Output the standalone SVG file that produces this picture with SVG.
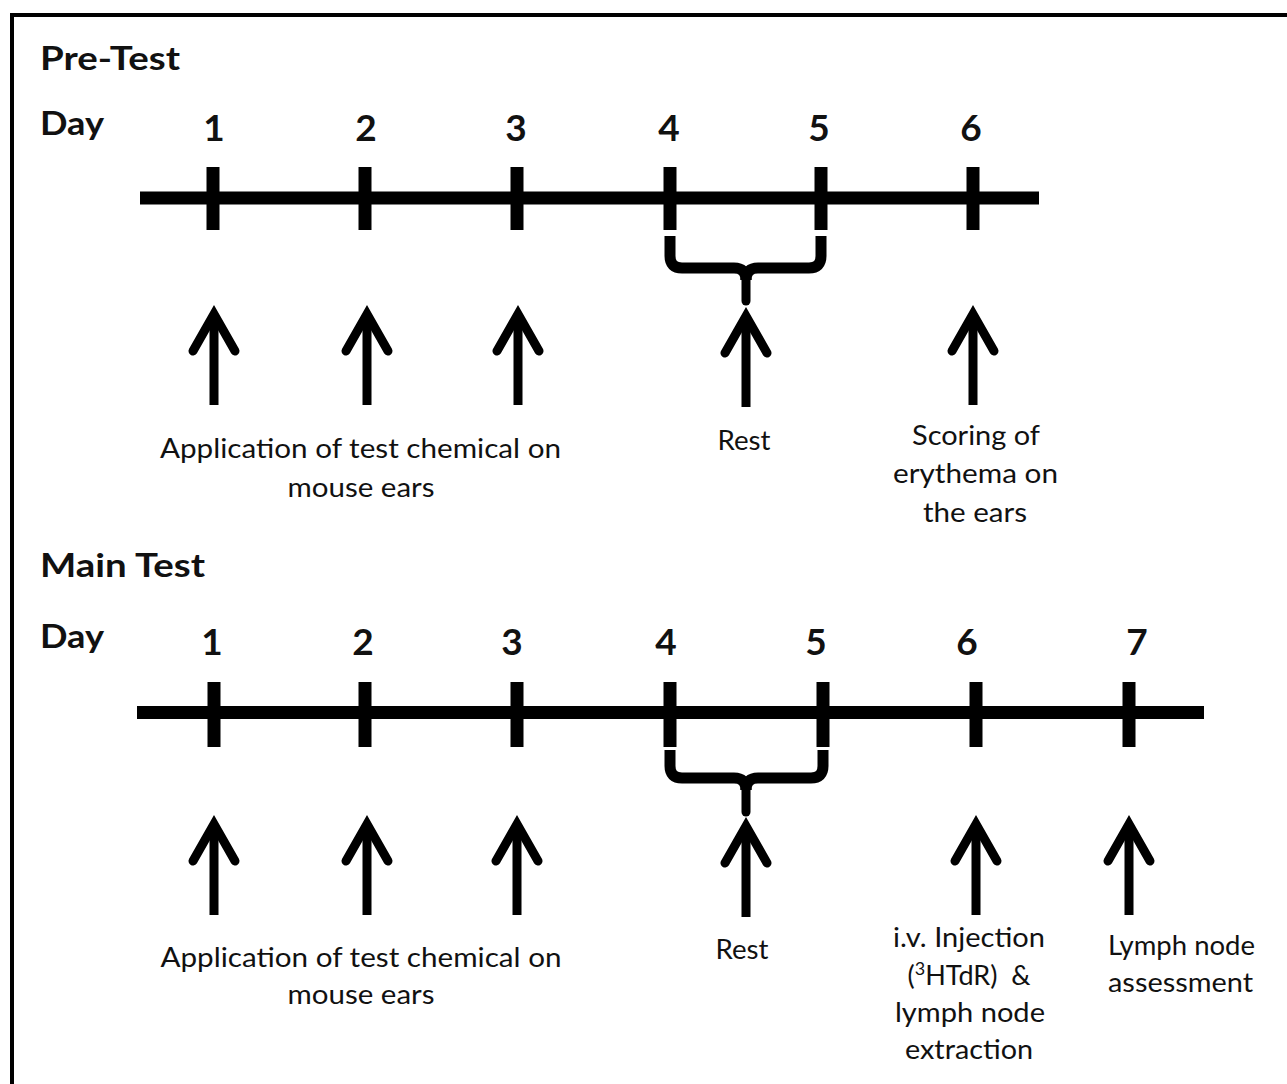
<svg xmlns="http://www.w3.org/2000/svg" width="1287" height="1084" viewBox="0 0 1287 1084">
<style>
.h{font-family:Lato,"Liberation Sans",sans-serif;font-weight:bold;fill:#111}
.d{font-family:Lato,"Liberation Sans",sans-serif;font-weight:bold;font-size:37px;fill:#111;text-anchor:middle}
.t{font-family:Lato,"Liberation Sans",sans-serif;font-size:27px;fill:#111;text-anchor:middle}
.tl{stroke:#000;stroke-width:13;fill:none}
.tk{stroke:#000;stroke-width:13}
.br{stroke:#000;stroke-width:11;fill:none;stroke-linecap:butt}
.brm{stroke:#000;stroke-width:9;fill:none;stroke-linecap:round}
.sh{stroke:#000;stroke-width:9}
.hd{stroke:#000;stroke-width:9;fill:none;stroke-linecap:round;stroke-linejoin:miter}
</style>
<rect x="0" y="0" width="1287" height="1084" fill="#fff"/>
<rect x="12" y="15" width="1300" height="1100" fill="none" stroke="#000" stroke-width="4"/>

<g id="pretest">
<text class="h" x="40" y="70" font-size="33" textLength="140" lengthAdjust="spacingAndGlyphs">Pre-Test</text>
<text class="h" x="40" y="135" font-size="32" textLength="64" lengthAdjust="spacingAndGlyphs">Day</text>
<g id="pre-days">
<text class="d" x="214" y="141">1</text>
<text class="d" x="366" y="141">2</text>
<text class="d" x="516" y="141">3</text>
<text class="d" x="669" y="141">4</text>
<text class="d" x="819" y="141">5</text>
<text class="d" x="971" y="141">6</text>
</g>
<g id="pre-timeline">
<line class="tl" x1="140" y1="198" x2="1039" y2="198"/>
<line class="tk" x1="213" y1="167" x2="213" y2="230"/>
<line class="tk" x1="365" y1="167" x2="365" y2="230"/>
<line class="tk" x1="517" y1="167" x2="517" y2="230"/>
<line class="tk" x1="670" y1="167" x2="670" y2="230"/>
<line class="tk" x1="821" y1="167" x2="821" y2="230"/>
<line class="tk" x1="973" y1="167" x2="973" y2="230"/>
</g>
<g id="pre-brace">
<path class="br" d="M670,236 L670,256 Q670,268 682,268 L734,268 Q746,268 746,280"/>
<path class="br" d="M821,236 L821,256 Q821,268 809,268 L758,268 Q746,268 746,280"/>
<line class="brm" x1="746" y1="272" x2="746" y2="301"/>
</g>
</g>

<g id="pre-arrows">
<g id="pa1"><line class="sh" x1="214" y1="314" x2="214" y2="405"/><polyline class="hd" points="193,351 214,314 235,351"/></g>
<g id="pa2"><line class="sh" x1="367" y1="314" x2="367" y2="405"/><polyline class="hd" points="346,351 367,314 388,351"/></g>
<g id="pa3"><line class="sh" x1="518" y1="314" x2="518" y2="405"/><polyline class="hd" points="497,351 518,314 539,351"/></g>
<g id="pa4"><line class="sh" x1="746" y1="316" x2="746" y2="407"/><polyline class="hd" points="725,353 746,316 767,353"/></g>
<g id="pa5"><line class="sh" x1="973" y1="314" x2="973" y2="405"/><polyline class="hd" points="952,351 973,314 994,351"/></g>
</g>

<g id="pre-labels">
<text class="t" x="360.5" y="458" textLength="401" lengthAdjust="spacingAndGlyphs">Application of test chemical on</text>
<text class="t" x="361" y="497" textLength="147" lengthAdjust="spacingAndGlyphs">mouse ears</text>
<text class="t" x="744" y="450" textLength="53" lengthAdjust="spacingAndGlyphs">Rest</text>
<text class="t" x="976" y="445" textLength="128" lengthAdjust="spacingAndGlyphs">Scoring of</text>
<text class="t" x="975.5" y="483" textLength="165" lengthAdjust="spacingAndGlyphs">erythema on</text>
<text class="t" x="975" y="522" textLength="104" lengthAdjust="spacingAndGlyphs">the ears</text>
</g>

<g id="maintest">
<text class="h" x="40" y="577" font-size="33" textLength="165" lengthAdjust="spacingAndGlyphs">Main Test</text>
<text class="h" x="40" y="648" font-size="32" textLength="64" lengthAdjust="spacingAndGlyphs">Day</text>
<g id="main-days">
<text class="d" x="212" y="655">1</text>
<text class="d" x="363" y="655">2</text>
<text class="d" x="512" y="655">3</text>
<text class="d" x="666" y="655">4</text>
<text class="d" x="816" y="655">5</text>
<text class="d" x="967" y="655">6</text>
<text class="d" x="1137" y="655">7</text>
</g>
<g id="main-timeline">
<line class="tl" x1="137" y1="712.5" x2="1204" y2="712.5"/>
<line class="tk" x1="214" y1="682" x2="214" y2="747"/>
<line class="tk" x1="365" y1="682" x2="365" y2="747"/>
<line class="tk" x1="517" y1="682" x2="517" y2="747"/>
<line class="tk" x1="670" y1="682" x2="670" y2="747"/>
<line class="tk" x1="823" y1="682" x2="823" y2="747"/>
<line class="tk" x1="976" y1="682" x2="976" y2="747"/>
<line class="tk" x1="1129" y1="682" x2="1129" y2="747"/>
</g>
<g id="main-brace">
<path class="br" d="M670,750 L670,766 Q670,778 682,778 L734,778 Q746,778 746,790"/>
<path class="br" d="M823,750 L823,766 Q823,778 811,778 L758,778 Q746,778 746,790"/>
<line class="brm" x1="746" y1="782" x2="746" y2="812"/>
</g>
</g>

<g id="main-arrows">
<g id="ma1"><line class="sh" x1="214" y1="824" x2="214" y2="915"/><polyline class="hd" points="193,861 214,824 235,861"/></g>
<g id="ma2"><line class="sh" x1="367" y1="824" x2="367" y2="915"/><polyline class="hd" points="346,861 367,824 388,861"/></g>
<g id="ma3"><line class="sh" x1="517" y1="824" x2="517" y2="915"/><polyline class="hd" points="496,861 517,824 538,861"/></g>
<g id="ma4"><line class="sh" x1="746" y1="826" x2="746" y2="917"/><polyline class="hd" points="725,863 746,826 767,863"/></g>
<g id="ma5"><line class="sh" x1="976" y1="824" x2="976" y2="915"/><polyline class="hd" points="955,861 976,824 997,861"/></g>
<g id="ma6"><line class="sh" x1="1129" y1="824" x2="1129" y2="915"/><polyline class="hd" points="1108,861 1129,824 1150,861"/></g>
</g>

<g id="main-labels">
<text class="t" x="361" y="967" textLength="401" lengthAdjust="spacingAndGlyphs">Application of test chemical on</text>
<text class="t" x="361" y="1004" textLength="147" lengthAdjust="spacingAndGlyphs">mouse ears</text>
<text class="t" x="742" y="959" textLength="53" lengthAdjust="spacingAndGlyphs">Rest</text>
<text class="t" x="969" y="947" textLength="152" lengthAdjust="spacingAndGlyphs">i.v. Injection</text>
<text class="t" x="969" y="985" xml:space="preserve">(<tspan font-size="18" dy="-10">3</tspan><tspan dy="10">HTdR)  &amp;</tspan></text>
<text class="t" x="970" y="1022" textLength="150" lengthAdjust="spacingAndGlyphs">lymph node</text>
<text class="t" x="969" y="1059" textLength="128" lengthAdjust="spacingAndGlyphs">extraction</text>
<text class="t" x="1181.5" y="955" textLength="147" lengthAdjust="spacingAndGlyphs">Lymph node</text>
<text class="t" x="1180.5" y="992" textLength="145" lengthAdjust="spacingAndGlyphs">assessment</text>
</g>
</svg>
